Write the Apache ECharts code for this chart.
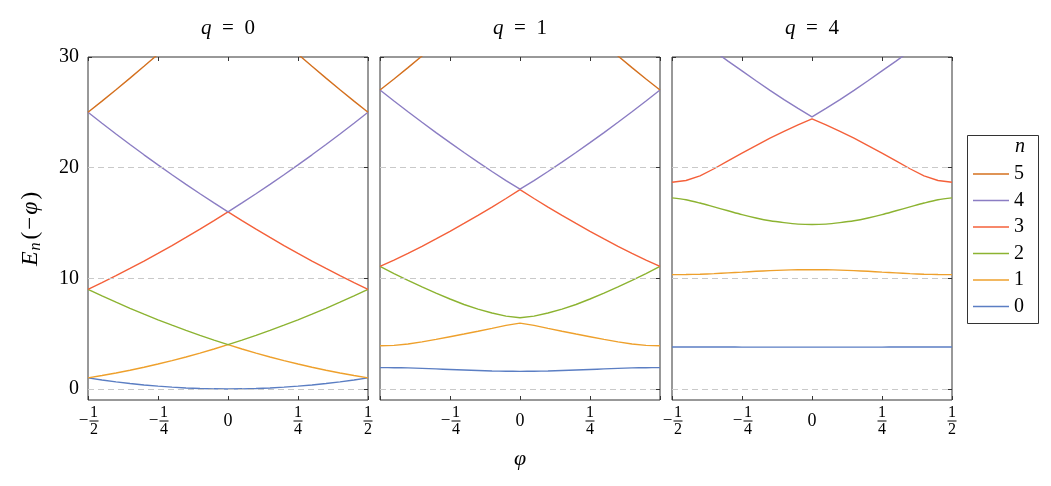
<!DOCTYPE html>
<html>
  <head>
    <meta charset="utf-8" />
    <title>Energy bands E_n(-phi)</title>
    <script src="https://cdn.jsdelivr.net/npm/echarts@6.0.0/dist/echarts.min.js"></script>
    <style>
      body {
        margin: 0;
        padding: 0;
        background: #fff;
      }
      #main {
        width: 1051px;
        height: 486px;
      }
    </style>
  </head>
  <body>
    <div id="main"></div>
    <script type="text/javascript">
      // sample points of the offset phi
      var phi = [-0.5, -0.45, -0.4, -0.35, -0.3, -0.25, -0.2, -0.15, -0.1, -0.05, 0,
        0.05, 0.1, 0.15, 0.2, 0.25, 0.3, 0.35, 0.4, 0.45, 0.5];

      // q = 0
      var q0_n0 = [1, 0.81, 0.64, 0.49, 0.36, 0.25, 0.16, 0.09, 0.04, 0.01, 0, 0.01, 0.04, 0.09, 0.16, 0.25, 0.36, 0.49, 0.64, 0.81, 1];
      var q0_n1 = [1, 1.21, 1.44, 1.69, 1.96, 2.25, 2.56, 2.89, 3.24, 3.61, 4, 3.61, 3.24, 2.89, 2.56, 2.25, 1.96, 1.69, 1.44, 1.21, 1];
      var q0_n2 = [9, 8.41, 7.84, 7.29, 6.76, 6.25, 5.76, 5.29, 4.84, 4.41, 4, 4.41, 4.84, 5.29, 5.76, 6.25, 6.76, 7.29, 7.84, 8.41, 9];
      var q0_n3 = [9, 9.61, 10.24, 10.89, 11.56, 12.25, 12.96, 13.69, 14.44, 15.21, 16, 15.21, 14.44, 13.69, 12.96, 12.25, 11.56, 10.89, 10.24, 9.61, 9];
      var q0_n4 = [25, 24.01, 23.04, 22.09, 21.16, 20.25, 19.36, 18.49, 17.64, 16.81, 16, 16.81, 17.64, 18.49, 19.36, 20.25, 21.16, 22.09, 23.04, 24.01, 25];
      var q0_n5 = [25, 26.01, 27.04, 28.09, 29.16, 30.25, 31.36, 32.49, 33.64, 34.81, 36, 34.81, 33.64, 32.49, 31.36, 30.25, 29.16, 28.09, 27.04, 26.01, 25];

      // q = 1
      var q1_n0 = [1.93, 1.92, 1.9, 1.86, 1.81, 1.76, 1.71, 1.66, 1.62, 1.6, 1.59, 1.6, 1.62, 1.66, 1.71, 1.76, 1.81, 1.86, 1.9, 1.92, 1.93];
      var q1_n1 = [3.9, 3.94, 4.06, 4.25, 4.48, 4.72, 4.96, 5.21, 5.47, 5.74, 5.95, 5.74, 5.47, 5.21, 4.96, 4.72, 4.48, 4.25, 4.06, 3.94, 3.9];
      var q1_n2 = [11.08, 10.43, 9.81, 9.22, 8.66, 8.13, 7.63, 7.22, 6.86, 6.58, 6.43, 6.58, 6.86, 7.22, 7.63, 8.13, 8.66, 9.22, 9.81, 10.43, 11.08];
      var q1_n3 = [11.07, 11.64, 12.25, 12.89, 13.56, 14.25, 14.96, 15.69, 16.44, 17.21, 18.02, 17.21, 16.44, 15.69, 14.96, 14.25, 13.56, 12.89, 12.25, 11.64, 11.07];
      var q1_n4 = [27.02, 26.02, 25.05, 24.1, 23.17, 22.26, 21.37, 20.5, 19.65, 18.83, 18.06, 18.83, 19.65, 20.5, 21.37, 22.26, 23.17, 24.1, 25.05, 26.02, 27.02];
      var q1_n5 = [27.02, 28.01, 29.04, 30.09, 31.16, 32.25, 33.36, 34.49, 35.64, 36.81, 38, 36.81, 35.64, 34.49, 33.36, 32.25, 31.16, 30.09, 29.04, 28.01, 27.02];

      // q = 4
      var q4_n0 = [3.79, 3.79, 3.79, 3.79, 3.79, 3.78, 3.78, 3.78, 3.78, 3.78, 3.78, 3.78, 3.78, 3.78, 3.78, 3.78, 3.79, 3.79, 3.79, 3.79, 3.79];
      var q4_n1 = [10.33, 10.34, 10.37, 10.42, 10.49, 10.56, 10.63, 10.69, 10.74, 10.77, 10.78, 10.77, 10.74, 10.69, 10.63, 10.56, 10.49, 10.42, 10.37, 10.34, 10.33];
      var q4_n2 = [17.27, 17.1, 16.8, 16.45, 16.1, 15.75, 15.45, 15.2, 15.03, 14.9, 14.86, 14.9, 15.03, 15.2, 15.45, 15.75, 16.1, 16.45, 16.8, 17.1, 17.27];
      var q4_n3 = [18.68, 18.84, 19.25, 19.9, 20.62, 21.32, 22, 22.67, 23.28, 23.87, 24.41, 23.87, 23.28, 22.67, 22, 21.32, 20.62, 19.9, 19.25, 18.84, 18.68];
      var q4_n4 = [33.3, 32.4, 31.48, 30.55, 29.63, 28.74, 27.85, 26.98, 26.15, 25.35, 24.59, 25.35, 26.15, 26.98, 27.85, 28.74, 29.63, 30.55, 31.48, 32.4, 33.3];
      var q4_n5 = [33.5, 33.9, 34.6, 35.6, 36.7, 37.8, 39, 40.2, 41.5, 42.8, 44.1, 42.8, 41.5, 40.2, 39, 37.8, 36.7, 35.6, 34.6, 33.9, 33.5];

      var qValues = ["0", "1", "4"];
      var levelNames = ["0", "1", "2", "3", "4", "5"];
      var yTicks = [0, 10, 20, 30];
      var panels = [
        [q0_n0, q0_n1, q0_n2, q0_n3, q0_n4, q0_n5],
        [q1_n0, q1_n1, q1_n2, q1_n3, q1_n4, q1_n5],
        [q4_n0, q4_n1, q4_n2, q4_n3, q4_n4, q4_n5],
      ];
      // curves without a crossing at phi = 0 get drawn smoothed
      var smoothCurves = { "1-0": true, "2-0": true, "2-1": true, "2-2": true };

      var colors = ["#5b7ec3", "#eea02c", "#8cb331", "#f4603a", "#8b7dc3", "#d4701e"];
      var serif = "Liberation Serif";
      var gridLeft = [88, 380, 672];
      var plotW = 280;

      var myChart = echarts.init(document.getElementById("main"));

      // stacked fraction labels like -1/2, 1/4
      var fracRich = {
        n: { fontSize: 16, fontFamily: serif, lineHeight: 13, width: 9, align: "center", color: "#000" },
        s: { width: 12, lineHeight: 13 },
        m: { fontSize: 17, fontFamily: serif, lineHeight: 4, width: 12, align: "center", color: "#000" },
        b: { width: 9, height: 1, lineHeight: 4, backgroundColor: "#000" },
        z: { fontSize: 18, fontFamily: serif, lineHeight: 4, color: "#000" },
        e: { lineHeight: 13 },
      };
      function fracLabel(v, hideEnds) {
        if (hideEnds && Math.abs(v) > 0.4) return "";
        if (Math.abs(v) < 1e-9) return "{e| }\n{z|0}\n{e| }";
        var den = Math.abs(v) > 0.4 ? "2" : "4";
        var neg = v < 0;
        return (neg ? "{s| }" : "") + "{n|1}\n" +
          (neg ? "{m|−}" : "") + "{b| }\n" +
          (neg ? "{s| }" : "") + "{n|" + den + "}";
      }

      var grids = [], xAxes = [], yAxes = [], series = [];
      for (var p = 0; p < 3; p++) {
        grids.push({
          left: gridLeft[p], top: 57, width: plotW, height: 343,
          show: true, borderColor: "#333", borderWidth: 1, backgroundColor: "transparent",
        });
        (function (p) {
          xAxes.push({
            type: "value", gridIndex: p, min: -0.5, max: 0.5, interval: 0.25,
            axisLine: { show: false, onZero: false },
            axisTick: { inside: true, length: 4, lineStyle: { color: "#333" } },
            splitLine: { show: false },
            axisLabel: {
              margin: 6,
              formatter: function (v) { return fracLabel(v, p === 1); },
              rich: fracRich,
            },
          });
        })(p);
        xAxes.push({
          type: "value", gridIndex: p, position: "top", min: -0.5, max: 0.5, interval: 0.25,
          axisLine: { show: false, onZero: false },
          axisTick: { inside: true, length: 4, lineStyle: { color: "#333" } },
          axisLabel: { show: false },
          splitLine: { show: false },
        });
        yAxes.push({
          type: "value", gridIndex: p, position: "left", min: -1, max: 30,
          axisLine: { show: false, onZero: false },
          axisTick: { inside: true, length: 4, customValues: yTicks, lineStyle: { color: "#333" } },
          splitLine: { show: false },
          axisLabel: {
            show: p === 0, customValues: yTicks, margin: 9,
            fontSize: 20, fontFamily: serif, color: "#000",
          },
        });
        yAxes.push({
          type: "value", gridIndex: p, position: "right", min: -1, max: 30,
          axisLine: { show: false, onZero: false },
          axisTick: { inside: true, length: 4, customValues: yTicks, lineStyle: { color: "#333" } },
          splitLine: { show: false },
          axisLabel: { show: false },
        });

        // dashed horizontal grid lines
        series.push({
          type: "line", xAxisIndex: 2 * p, yAxisIndex: 2 * p, data: [], z: 1, silent: true,
          markLine: {
            silent: true, symbol: ["none", "none"], label: { show: false },
            lineStyle: { type: [6, 4], color: "#c9c9c9", width: 1 },
            data: [{ yAxis: 0 }, { yAxis: 10 }, { yAxis: 20 }],
          },
        });

        for (var n = 0; n < 6; n++) {
          var vals = panels[p][n];
          series.push({
            name: levelNames[n],
            type: "line",
            xAxisIndex: 2 * p,
            yAxisIndex: 2 * p,
            data: phi.map(function (x, i) { return [x, vals[i]]; }),
            symbol: "none",
            showSymbol: false,
            smooth: smoothCurves[p + "-" + n] ? 0.3 : false,
            clip: true,
            z: 3,
            color: colors[n],
            lineStyle: { width: 1.4, color: colors[n] },
          });
        }
      }

      var graphics = [];
      for (var k = 0; k < 3; k++) {
        graphics.push({
          type: "text",
          x: gridLeft[k] + plotW / 2,
          y: 28,
          style: {
            text: "{i|q}\u2002=\u2002" + qValues[k],
            fontSize: 21, fontFamily: serif, fill: "#000",
            align: "center", verticalAlign: "middle",
            rich: { i: { fontStyle: "italic", fontSize: 21, fontFamily: serif } },
          },
        });
      }
      // y axis name
      graphics.push({
        type: "text",
        x: 31,
        y: 229,
        rotation: Math.PI / 2,
        style: {
          text: "{i|E}{sub|n}{r|(}{m|−}{i|φ}{r|)}",
          fontSize: 23, fontFamily: serif, fill: "#000",
          align: "center", verticalAlign: "middle",
          rich: {
            i: { fontStyle: "italic", fontSize: 24, fontFamily: serif, lineHeight: 26, padding: [0, 1, 0, 1] },
            r: { fontSize: 23, fontFamily: serif, lineHeight: 26, padding: [0, 1, 0, 1] },
            m: { fontSize: 23, fontFamily: serif, lineHeight: 26, padding: [0, 1, 0, 1] },
            sub: { fontStyle: "italic", fontSize: 16, fontFamily: serif, lineHeight: 15, verticalAlign: "bottom", padding: [0, 2, 0, 0] },
          },
        },
      });
      // x axis name
      graphics.push({
        type: "text",
        x: 520,
        y: 459,
        style: {
          text: "φ", fontSize: 22, fontFamily: serif, fontStyle: "italic", fill: "#000",
          align: "center", verticalAlign: "middle",
        },
      });
      // legend frame and its title
      graphics.push({
        type: "rect",
        shape: { x: 967.5, y: 135.5, width: 71, height: 188 },
        style: { fill: "none", stroke: "#333", lineWidth: 1 },
      });
      graphics.push({
        type: "text",
        x: 1020,
        y: 147,
        style: {
          text: "n", fontSize: 20, fontFamily: serif, fontStyle: "italic", fill: "#000",
          align: "center", verticalAlign: "middle",
        },
      });

      var option = {
        animation: false,
        backgroundColor: "#fff",
        grid: grids,
        xAxis: xAxes,
        yAxis: yAxes,
        legend: {
          data: ["5", "4", "3", "2", "1", "0"],
          orient: "vertical",
          left: 973,
          top: 164,
          icon: "rect",
          itemWidth: 36,
          itemHeight: 1.5,
          itemGap: 6.5,
          padding: 0,
          textStyle: { fontSize: 20, fontFamily: serif, color: "#000", lineHeight: 20 },
        },
        graphic: graphics,
        series: series,
      };

      myChart.setOption(option);
    </script>
  </body>
</html>
